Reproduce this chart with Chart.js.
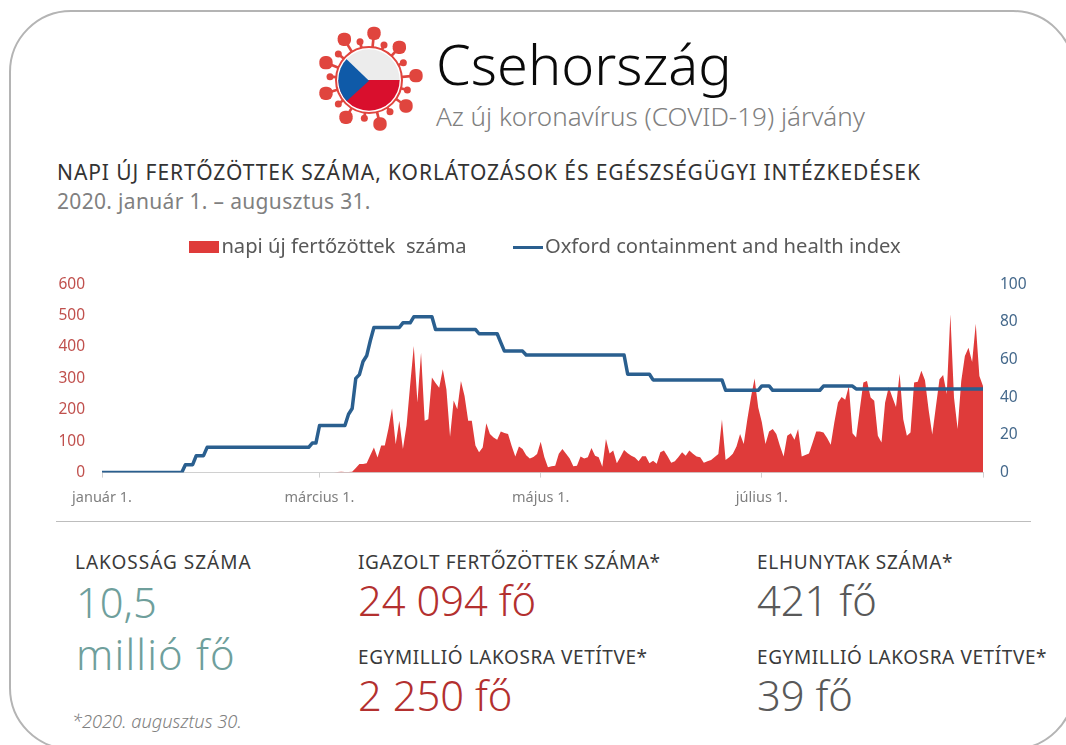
<!DOCTYPE html>
<html lang="hu"><head><meta charset="utf-8">
<script src="https://cdn.jsdelivr.net/npm/chart.js@4"></script>
<style>
html,body{margin:0;padding:0;background:#fff;width:1066px;height:745px;overflow:hidden}
body{position:relative;font-family:"Noto Sans","Open Sans",sans-serif}
#card{position:absolute;left:9px;top:10px;width:1066px;height:740px;border:2px solid #b4b4b4;border-radius:62px;box-sizing:border-box}
.t{position:absolute;white-space:nowrap;line-height:1}
.big{font-size:41.7px;font-weight:300}
.cap{font-size:19px;color:#3a3a3a}
#wrap{position:absolute;left:44px;top:209px;width:1010px;height:310px}
#sep{position:absolute;left:56px;top:521px;width:975px;height:1px;background:#bdbdbd}
svg{position:absolute}
</style></head><body>
<div id="card"></div>
<svg id="virus" style="left:300px;top:10px" width="200" height="130" viewBox="0 0 600 390"></svg>
<div class="t" style="left:436px;top:36px;font-size:55.9px;color:#0a0a0a;font-weight:300">Csehország</div>
<div class="t" style="left:436px;top:103px;font-size:26px;color:#808080;font-weight:300">Az új koronavírus (COVID-19) járvány</div>
<div class="t" style="left:57px;top:162px;font-size:21px;letter-spacing:.92px;color:#333">NAPI ÚJ FERTŐZÖTTEK SZÁMA, KORLÁTOZÁSOK ÉS EGÉSZSÉGÜGYI INTÉZKEDÉSEK</div>
<div class="t" style="left:57px;top:191px;font-size:21px;letter-spacing:.33px;color:#808080">2020. január 1. – augusztus 31.</div>
<div id="wrap"><canvas id="c"></canvas></div>
<div id="sep"></div>
<div class="t cap" style="left:75px;top:553px;letter-spacing:1px">LAKOSSÁG SZÁMA</div>
<div class="t big" style="left:76px;top:581px;color:#6f9f9c">10,5</div>
<div class="t big" style="left:76px;top:633px;letter-spacing:1.2px;color:#6f9f9c">millió fő</div>
<div class="t" style="left:72px;top:712px;font-size:18.3px;font-style:italic;font-weight:300;color:#808080">*2020. augusztus 30.</div>
<div class="t cap" style="left:358px;top:553px;letter-spacing:.6px">IGAZOLT FERTŐZÖTTEK SZÁMA*</div>
<div class="t big" style="left:358px;top:579px;color:#b3302f">24 094 fő</div>
<div class="t cap" style="left:358px;top:648px;letter-spacing:.58px">EGYMILLIÓ LAKOSRA VETÍTVE*</div>
<div class="t big" style="left:358px;top:674px;color:#b3302f">2 250 fő</div>
<div class="t cap" style="left:757px;top:553px;letter-spacing:.7px">ELHUNYTAK SZÁMA*</div>
<div class="t big" style="left:757px;top:579px;color:#595959">421 fő</div>
<div class="t cap" style="left:757px;top:648px;letter-spacing:.6px">EGYMILLIÓ LAKOSRA VETÍTVE*</div>
<div class="t big" style="left:757px;top:674px;color:#595959">39 fő</div>
<script>
const monthNames=["január","február","március","április","május","június","július","augusztus"];
const monthLengths=[31,29,31,30,31,30,31,31];
const xTickLabels=["január 1.","március 1.","május 1.","július 1."];
const leftTicks=[0,100,200,300,400,500,600];
const rightTicks=[0,20,40,60,80,100];
const seriesNames=["napi új fertőzöttek  száma","Oxford containment and health index"];
const dailyCases=[
0,0,0,0,0,0,0,0,0,0,0,0,0,0,0,0,0,0,0,0,0,0,0,0,0,0,0,0,0,0,
0,0,0,0,0,0,0,0,0,0,0,0,0,0,0,0,0,0,0,0,0,0,0,0,0,0,0,0,0,0,
0,0,0,0,0,2,3,2,2,3,15,27,27,30,55,80,48,86,86,140,
205,90,165,75,150,280,403,223,382,165,170,303,285,270,329,265,114,230,202,292,
244,165,165,86,65,80,157,123,112,105,131,126,123,85,51,83,75,55,45,50,
59,98,50,17,20,22,60,75,60,45,20,22,51,45,49,78,54,49,19,107,
61,70,30,50,72,62,54,48,36,52,52,30,38,28,65,70,52,31,36,50,
65,54,70,60,51,49,31,36,40,50,59,169,40,49,60,83,123,91,170,240,
300,207,160,91,131,139,123,85,51,117,125,105,139,51,56,61,95,131,131,128,
110,89,160,223,241,232,276,125,112,200,287,292,239,229,117,96,223,273,240,209,
315,170,117,128,287,289,324,294,200,121,210,297,311,250,504,239,139,292,371,398,
352,474,308,276];
const oxfordIndex=[
0,0,0,0,0,0,0,0,0,0,0,0,0,0,0,0,0,0,0,0,0,0,0,
4.2,4.2,4.2,9,9,9,
13.4,13.4,13.4,13.4,13.4,13.4,13.4,13.4,13.4,13.4,13.4,13.4,13.4,13.4,13.4,13.4,13.4,13.4,13.4,13.4,13.4,13.4,13.4,13.4,13.4,13.4,13.4,13.4,13.4,
15.7,15.7,
25,25,25,25,25,25,25,25,31,34,50,52,59,62,70,
77,77,77,77,77,77,77,77,
79.5,79.5,79.5,
82.7,82.7,82.7,82.7,82.7,82.7,
76,76,76,76,76,76,76,76,76,76,76,76,
73.7,73.7,73.7,73.7,73.7,73.7,69,
64.5,64.5,64.5,64.5,64.5,64.5,
62.4,62.4,62.4,62.4,62.4,62.4,62.4,62.4,62.4,62.4,62.4,62.4,62.4,62.4,62.4,62.4,62.4,62.4,62.4,62.4,62.4,62.4,62.4,62.4,62.4,62.4,62.4,62.4,
52.2,52.2,52.2,52.2,52.2,52.2,52.2,
49.2,49.2,49.2,49.2,49.2,49.2,49.2,49.2,49.2,49.2,49.2,49.2,49.2,49.2,49.2,49.2,49.2,49.2,49.2,49.2,
43.7,43.7,43.7,43.7,43.7,43.7,43.7,43.7,43.7,43.7,
46,46,46,
43.7,43.7,43.7,43.7,43.7,43.7,43.7,43.7,43.7,43.7,43.7,43.7,43.7,43.7,
45.9,45.9,45.9,45.9,45.9,45.9,45.9,45.9,45.9,
44.4,44.4,44.4,44.4,44.4,44.4,44.4,44.4,44.4,44.4,44.4,44.4,44.4,44.4,44.4,44.4,44.4,44.4,
44.4,44.4,44.4,44.4,44.4,44.4,44.4,44.4,44.4,44.4,44.4,44.4,44.4,44.4,44.4,44.4,44.4,44.4];

const categories=[];
monthNames.forEach((m,i)=>{for(let d=1;d<=monthLengths[i];d++)categories.push(m+" "+d+".");});
const red="#df3b3a",blue="#2a5f8f";

function swatch(w,h,color){
  const k=document.createElement('canvas');k.width=w;k.height=h;
  const g=k.getContext('2d');g.fillStyle=color;g.fillRect(0,0,w,h);return k;
}

// virus emblem
(function(){
  const big=[[222,70],[133,88],[78,158],[78,250],[138,322],[240,342],[318,288],[348,197],[298,112]];
  const small=[[180,95],[252,105],[115,132],[310,158],[90,200],[322,240],[115,282],[193,325],[270,305]];
  let s='';
  big.concat(small).forEach(p=>{s+=`<line x1="207" y1="210" x2="${p[0]}" y2="${p[1]}" stroke="#e0453e" stroke-width="8"/>`;});
  big.forEach(p=>{s+=`<rect x="${p[0]-20}" y="${p[1]-20}" width="40" height="40" rx="17" fill="#e0453e"/>`;});
  small.forEach(p=>{s+=`<circle cx="${p[0]}" cy="${p[1]}" r="10.5" fill="#e0453e"/>`;});
  s+=`<circle cx="207" cy="210" r="99" fill="#fff" stroke="#e0453e" stroke-width="6"/>`;
  s+=`<clipPath id="cp"><circle cx="207" cy="210" r="92"/></clipPath><g clip-path="url(#cp)">`;
  s+=`<rect x="100" y="110" width="220" height="100" fill="#ececec"/><rect x="100" y="210" width="220" height="100" fill="#d90f2d"/>`;
  s+=`<polygon points="100,110 207,212 100,310" fill="#0f5aa8"/></g>`;
  document.getElementById('virus').innerHTML=s;
})();

// extra gap under the legend
const legendGap={id:'legendGap',beforeLayout(ch){
  const lg=ch.legend;
  if(lg&&!lg._gapped){const f=lg.fit;lg.fit=function(){f.call(this);this.height+=17;};lg._gapped=true;}
}};

const chart=new Chart(document.getElementById('c'),{
  type:'line',
  plugins:[legendGap],
  data:{labels:categories,datasets:[
    {label:seriesNames[1],data:oxfordIndex,yAxisID:'y2',borderColor:blue,backgroundColor:blue,borderWidth:3.5,pointRadius:0,tension:0,fill:false,order:0,borderCapStyle:'butt',borderJoinStyle:'round'},
    {label:seriesNames[0],data:dailyCases,yAxisID:'y1',borderColor:red,backgroundColor:red,borderWidth:0,pointRadius:0,tension:0,fill:'origin',order:1}
  ]},
  options:{
    responsive:true,maintainAspectRatio:false,animation:false,
    layout:{padding:{top:0,bottom:0,left:0,right:0}},
    plugins:{tooltip:{enabled:false},
      legend:{position:'top',align:'center',
        labels:{usePointStyle:true,pointStyleWidth:14,boxHeight:9,padding:28,color:'#595959',
          font:{family:'"Noto Sans","Open Sans",sans-serif',size:20.2},
          generateLabels(){return [
            {text:seriesNames[0]+"\u00a0\u00a0\u00a0\u00a0\u00a0",fontColor:'#595959',fillStyle:red,strokeStyle:red,lineWidth:0,pointStyle:swatch(30,12,red),datasetIndex:1},
            {text:seriesNames[1],fontColor:'#595959',fillStyle:blue,strokeStyle:blue,lineWidth:0,pointStyle:swatch(30,3,blue),datasetIndex:0}
          ];}}}},
    scales:{
      x:{type:'category',
        afterBuildTicks(a){a.ticks=a.ticks.filter(t=>xTickLabels.includes(categories[t.value])||t.value===categories.length-1);},
        ticks:{autoSkip:false,maxRotation:0,minRotation:0,color:'#7f7f7f',font:{family:'"Noto Sans",sans-serif',size:14.5},padding:12,
          callback(v){return xTickLabels.includes(categories[v])?categories[v]:'';}},
        grid:{display:true,drawOnChartArea:false,tickLength:5,color:'#d0d0d0'},border:{display:true,color:'#d0d0d0'}},
      y1:{position:'left',min:0,max:600,
        afterBuildTicks(a){a.ticks=leftTicks.map(v=>({value:v}));},
        afterFit(a){a.width=58;},
        ticks:{color:'#c0504d',font:{family:'"Noto Sans",sans-serif',size:15.5},padding:9},
        grid:{display:false},border:{display:false}},
      y2:{position:'right',min:0,max:100,
        afterBuildTicks(a){a.ticks=rightTicks.map(v=>({value:v}));},
        afterFit(a){a.width=71;},
        ticks:{color:'#44688b',font:{family:'"Noto Sans",sans-serif',size:15.5},padding:9},
        grid:{display:false},border:{display:false}}
    }
  }
});
</script>
</body></html>
